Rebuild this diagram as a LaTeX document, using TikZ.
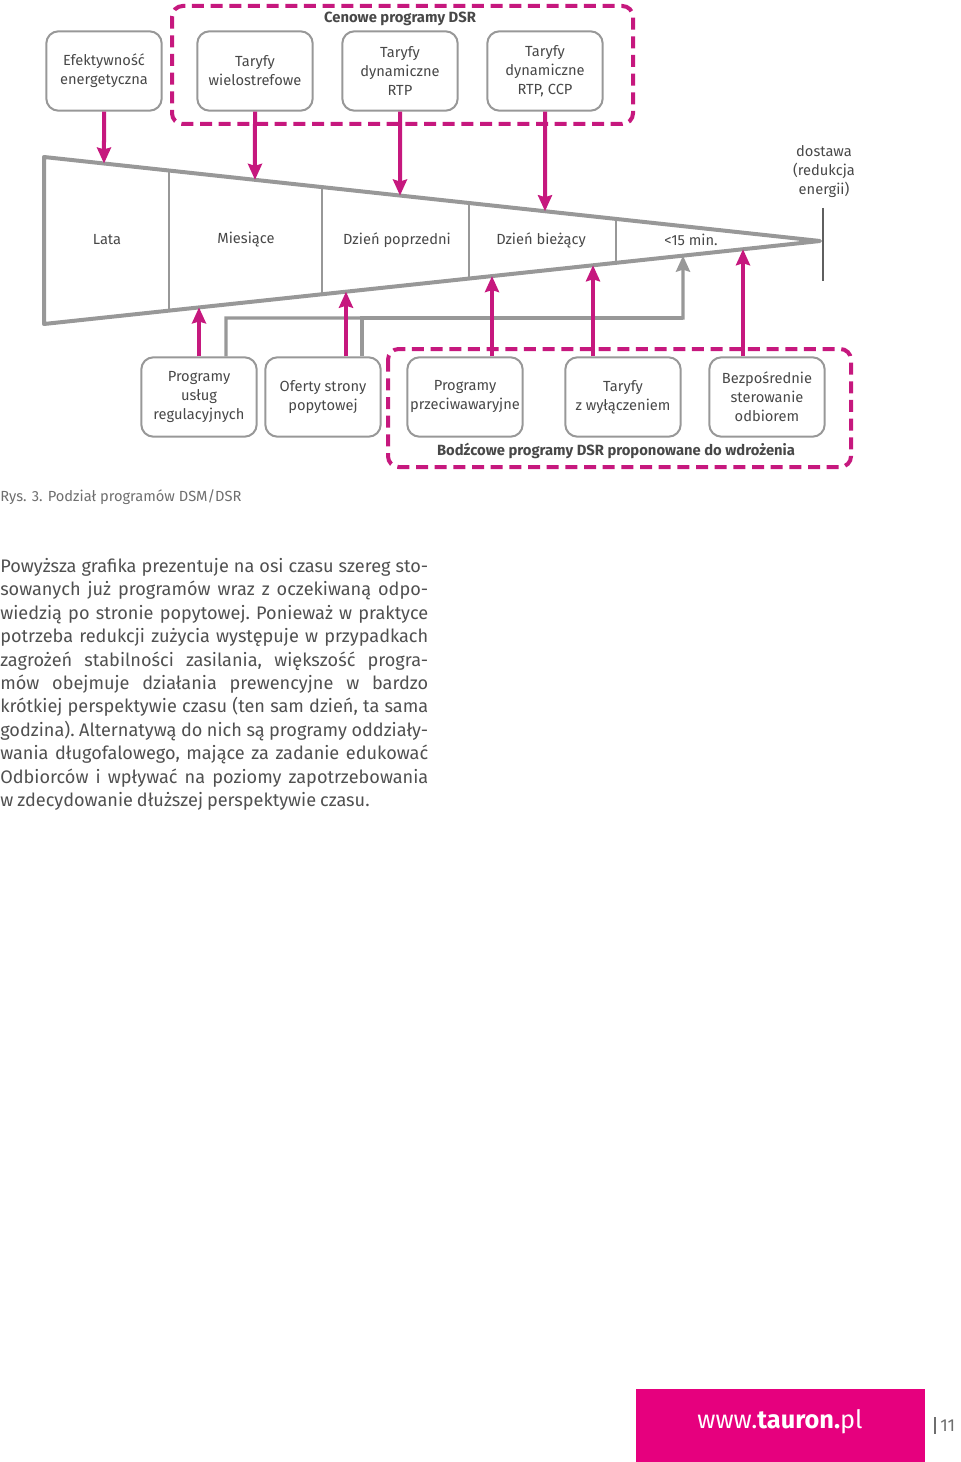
\documentclass[tikz,border=0pt]{standalone}
\usepackage{fontspec}
\setmainfont{Fira Sans}
\usepackage{tikz}
\usetikzlibrary{arrows.meta, positioning, calc}

\definecolor{dsrmag}{RGB}{198,24,126}
\definecolor{taurpink}{RGB}{230,0,126}
\definecolor{framegray}{RGB}{152,152,152}
\definecolor{tickgray}{RGB}{95,95,95}
\definecolor{txtgray}{RGB}{72,72,72}
\definecolor{capgray}{RGB}{110,110,110}
\definecolor{bodygray}{RGB}{80,80,80}

\begin{document}
\begin{tikzpicture}[
    x=0.75pt, y=-0.75pt,
    font=\fontsize{11}{14.25}\selectfont, text=txtgray,
    prog/.style={draw=framegray, line width=1.5pt, rounded corners=9pt, align=center,
        minimum width=86.5pt, minimum height=59.5pt, inner sep=0pt},
    grp/.style={draw=dsrmag, line width=3pt, dash pattern=on 9pt off 5pt, rounded corners=8pt},
    grplbl/.style={inner sep=0pt, font=\fontsize{11.1}{13}\selectfont\bfseries},
    magarr/.style={draw=dsrmag, line width=3pt, -{Stealth[length=12pt, width=10.5pt, inset=1.5pt]}},
    grayarr/.style={draw=framegray, line width=2.5pt, -{Stealth[length=12pt, width=10.5pt, inset=1.5pt]}},
    funnel/.style={draw=framegray, line width=3pt, line join=round},
    divider/.style={draw=framegray, line width=1.5pt},
    lbl/.style={inner sep=0pt, align=center}
]
\useasboundingbox (0,0) rectangle (960,1462);

% time funnel
\coordinate (tl) at (44,157);
\coordinate (tip) at (820,241);
\coordinate (bl) at (44,324);

\foreach \x in {169,322,469,616}
    \draw[divider] ($(tl)!{(\x-44)/776}!(tip)$) -- ($(bl)!{(\x-44)/776}!(tip)$);
\draw[funnel] (tl) -- (tip) -- (bl) -- cycle;

\foreach \x/\n/\t in {107/lata/Lata, 246/mies/Miesiące, 397/dpop/Dzień poprzedni, 541/dbiez/Dzień bieżący, 691/min/<15 min.}
    \node[lbl] (\n) at (\x,240) {\t};

\node[lbl] (dost) at (824,172) {dostawa\\(redukcja\\energii)};
\coordinate (dtop) at (823,208);
\coordinate (dbot) at (823,281);
\draw[tickgray, line width=1.5pt] (dtop) -- (dbot);

% price based programs
\draw[grp] (172,6) rectangle (633,124);
\node[grplbl] (cenlbl) at (400,19) {Cenowe programy DSR};

\node[prog] (eff) at (104,71) {Efektywność\\energetyczna};
\node[prog] (wielo) at (255,71) {Taryfy\\wielostrefowe};
\node[prog] (rtp) at (400,71) {Taryfy\\dynamiczne\\RTP};
\node[prog] (rtpccp) at (545,71) {Taryfy\\dynamiczne\\RTP, CCP};

\foreach \n/\x in {eff/104, wielo/255, rtp/400, rtpccp/545} {
    \coordinate (t-\n) at ($(tl)!{(\x-44)/776}!(tip)$);
    \draw[magarr] (\n) -- (t-\n);
}

% incentive programs
\draw[grp] (388,349) rectangle (851,467);
\node[grplbl] (bodlbl) at (616,451) {Bodźcowe programy DSR proponowane do wdrożenia};

\node[prog] (regul) at (199,397) {Programy\\usług\\regulacyjnych};
\node[prog] (oferty) at (323,397) {Oferty strony\\popytowej};
\node[prog] (awar) at (465,397) {Programy\\przeciwawaryjne};
\node[prog] (wylacz) at (623,397) {Taryfy\\z wyłączeniem};
\node[prog] (bezpo) at (767,397) {Bezpośrednie\\sterowanie\\odbiorem};

\coordinate (g-tip) at ($(bl)!{(683-44)/776}!(tip)$);
\coordinate (bus) at (683,318);
\draw[grayarr] ($(regul.north)+(27,0)$) |- (bus) -- (g-tip);
\draw[framegray, line width=2.5pt] ($(oferty.north)+(39,0)$) |- (bus);

\foreach \n/\x in {regul/199, oferty/346, awar/492, wylacz/593, bezpo/743} {
    \coordinate (b-\n) at ($(bl)!{(\x-44)/776}!(tip)$);
    \draw[magarr] (b-\n |- \n.north) -- (b-\n);
}

% caption and text
\node[anchor=west, inner sep=0pt, text=capgray] (rys) at (0,497) {Rys. 3. Podział programów DSM/DSR};

\node[anchor=north west, inner sep=0pt, text width=321pt, align=justify, text=bodygray,
    font=\fontsize{13.6}{17.55}\selectfont] (opis) at (0,558) {%
\frenchspacing\hyphenpenalty=10000 \spaceskip=0.22em plus 0.6em minus 0.1em
Powyższa grafika prezentuje na osi czasu szereg sto-\linebreak
sowanych już programów wraz z oczekiwaną odpo-\linebreak
wiedzią po stronie popytowej. Ponieważ w praktyce\linebreak
potrzeba redukcji zużycia występuje w przypadkach\linebreak
zagrożeń stabilności zasilania, większość progra-\linebreak
mów obejmuje działania prewencyjne w bardzo\linebreak
krótkiej perspektywie czasu (ten sam dzień, ta sama\linebreak
godzina). Alternatywą do nich są programy oddziały-\linebreak
wania długofalowego, mające za zadanie edukować\linebreak
Odbiorców i wpływać na poziomy zapotrzebowania\linebreak
w zdecydowanie dłuższej perspektywie czasu.};

% footer
\fill[taurpink] (636,1389) rectangle (925,1462);
\node[text=white, inner sep=0pt, font=\fontsize{19}{22}\selectfont] (www) at (780,1422) {www.\textbf{tauron.}pl};
\draw[capgray, line width=0.8pt] (935,1417) -- (935,1434);
\node[anchor=west, inner sep=0pt, text=capgray, font=\fontsize{13}{15}\selectfont] (strona) at (940,1426) {11};

\end{tikzpicture}
\end{document}
